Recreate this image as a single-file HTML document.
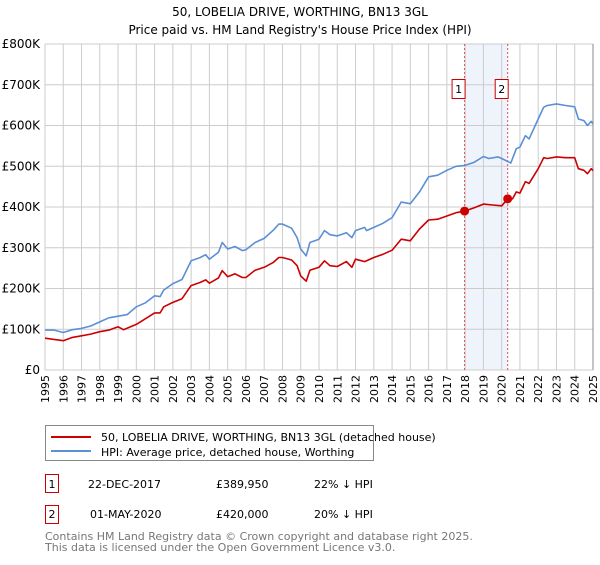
<!DOCTYPE html>
<html><head><meta charset="utf-8"><style>
body{margin:0;background:#fff;font-family:"Liberation Sans","DejaVu Sans",sans-serif;}
svg text{font-family:"DejaVu Sans","Liberation Sans",sans-serif;}
</style></head><body>
<svg id="chart" width="600" height="560" xmlns="http://www.w3.org/2000/svg">
<text x="300" y="16" text-anchor="middle" font-size="12">50, LOBELIA DRIVE, WORTHING, BN13 3GL</text>
<text x="300" y="34" text-anchor="middle" font-size="12">Price paid vs. HM Land Registry's House Price Index (HPI)</text>
<g id="plot"></g>
<g>
<rect x="45.5" y="425.5" width="328" height="35" fill="#fff" stroke="#888"/>
<line x1="51" y1="437" x2="91" y2="437" stroke="#cc0000" stroke-width="2"/>
<text x="101" y="441" font-size="11">50, LOBELIA DRIVE, WORTHING, BN13 3GL (detached house)</text>
<line x1="51" y1="451" x2="91" y2="451" stroke="#5b8fd6" stroke-width="2"/>
<text x="101" y="456" font-size="11">HPI: Average price, detached house, Worthing</text>
</g>
<g font-size="11">
<rect x="45.5" y="474.5" width="13" height="18" fill="none" stroke="#cc0000"/>
<text x="52" y="488" text-anchor="middle">1</text>
<text x="88" y="488">22-DEC-2017</text><text x="216" y="488">£389,950</text><text x="314" y="488">22% ↓ HPI</text>
<rect x="45.5" y="505.5" width="13" height="18" fill="none" stroke="#cc0000"/>
<text x="52" y="518" text-anchor="middle">2</text>
<text x="90" y="518">01-MAY-2020</text><text x="216" y="518">£420,000</text><text x="314" y="518">20% ↓ HPI</text>
</g>
<text x="45" y="540" font-size="11" fill="#777">Contains HM Land Registry data © Crown copyright and database right 2025.</text>
<text x="45" y="551" font-size="11" fill="#777">This data is licensed under the Open Government Licence v3.0.</text>
</svg>
<script>
const hpiYears=[1995,1995.5,1996,1996.5,1997,1997.5,1998,1998.5,1999,1999.5,2000,2000.5,2001,2001.3,2001.5,2002,2002.5,2003,2003.5,2003.8,2004,2004.5,2004.7,2005,2005.4,2005.8,2006,2006.5,2007,2007.5,2007.8,2008,2008.5,2008.8,2009,2009.3,2009.5,2010,2010.3,2010.6,2011,2011.5,2011.8,2012,2012.5,2012.6,2013,2013.5,2014,2014.5,2015,2015.5,2016,2016.5,2017,2017.5,2018,2018.5,2019,2019.3,2019.8,2020,2020.5,2020.8,2021,2021.3,2021.5,2022,2022.3,2022.5,2023,2023.5,2024,2024.2,2024.5,2024.7,2024.9,2025];
const hpiValues=[98,98,92,99,102,108,118,128,132,136,155,165,182,180,196,212,222,268,276,283,272,289,313,297,303,293,295,313,323,343,358,358,348,325,297,280,313,321,342,332,329,337,325,342,350,342,350,360,374,412,408,437,474,478,490,500,502,510,524,519,523,519,508,543,547,575,567,616,645,649,653,649,646,616,612,600,610,604];
const redYears=[1995,1995.5,1996,1996.5,1997,1997.5,1998,1998.5,1999,1999.3,2000,2000.5,2001,2001.3,2001.5,2002,2002.5,2003,2003.5,2003.8,2004,2004.5,2004.7,2005,2005.4,2005.8,2006,2006.5,2007,2007.5,2007.8,2008,2008.5,2008.8,2009,2009.3,2009.5,2010,2010.3,2010.6,2011,2011.5,2011.8,2012,2012.5,2013,2013.5,2014,2014.5,2015,2015.5,2016,2016.5,2017,2017.5,2017.97,2018.5,2019,2019.5,2020,2020.33,2020.6,2020.8,2021,2021.3,2021.5,2022,2022.3,2022.5,2023,2023.5,2024,2024.2,2024.5,2024.7,2024.9,2025];
const redValues=[78,75,72,80,84,88,94,98,106,99,112,126,140,140,155,166,175,207,215,221,213,226,244,229,236,227,227,245,252,264,276,276,270,256,231,218,245,252,268,256,254,266,252,272,266,276,284,294,321,317,346,368,370,378,386,390,398,407,405,403,420,420,437,434,462,458,494,521,519,523,521,521,494,490,482,494,489];
const saleYears=[2017.97,2020.33];
const saleValues=[389.95,420];
const saleLabels=["1","2"];
const yTicks=[0,100,200,300,400,500,600,700,800];
const yTickLabels=["£0","£100K","£200K","£300K","£400K","£500K","£600K","£700K","£800K"];
const xTicks=[];for(let y=1995;y<=2025;y++)xTicks.push(y);

const X0=45,X1=593,Y0=370,Y1=44;
const xs=y=>X0+(y-1995)/30*(X1-X0);
const ys=v=>Y0-v/800*(Y0-Y1);
const NS="http://www.w3.org/2000/svg";
const plot=document.getElementById('plot');
function mk(t,a,p){const e=document.createElementNS(NS,t);for(const k in a)e.setAttribute(k,a[k]);(p||plot).appendChild(e);return e;}

// shaded
const sh=mk('rect',{x:xs(saleYears[0]),y:Y1,width:xs(saleYears[1])-xs(saleYears[0]),height:Y0-Y1,fill:'#eef3fc'});


// grid
xTicks.forEach(y=>{
 const l=mk('line',{x1:xs(y),x2:xs(y),y1:Y1,y2:Y0,stroke:'#cccccc','stroke-width':1});
 
 
 const t=mk('text',{x:0,y:0,'font-size':11,'text-anchor':'end',transform:`translate(${xs(y)+4},375) rotate(-90)`});
 t.textContent=y;
 
 
});
yTicks.forEach((v,i)=>{
 const l=mk('line',{x1:X0,x2:X1,y1:ys(v),y2:ys(v),stroke:'#cccccc','stroke-width':1});
 
 
 const t=mk('text',{x:40,y:ys(v)+4,'font-size':12,'text-anchor':'end'});
 t.textContent=yTickLabels[i];
 
 
});
const sp=mk('line',{x1:X1,x2:X1,y1:Y1,y2:Y0,stroke:'#888'});


// sale vlines
saleYears.forEach((y,i)=>{
 const l=mk('line',{x1:xs(y),x2:xs(y),y1:Y1,y2:Y0,stroke:'#e05050','stroke-dasharray':'2,2','stroke-width':1});
 
 
 const r=mk('rect',{x:xs(y)-12.5,y:79.5,width:13,height:19,fill:'#fff',stroke:'#cc0000'});
 
 
 const t=mk('text',{x:xs(y)-6,y:93,'font-size':11,'text-anchor':'middle'});
 t.textContent=saleLabels[i];
 
 
});
function line(xa,va,col,name){
 const d=xa.map((y,i)=>(i?'L':'M')+xs(y).toFixed(1)+','+ys(va[i]).toFixed(1)).join('');
 const p=mk('path',{d:d,fill:'none',stroke:col,'stroke-width':1.6,'stroke-linejoin':'round'});
 
 
}
line(hpiYears,hpiValues,'#5b8fd6','hpi-line');
line(redYears,redValues,'#cc0000','price-paid-line');
saleYears.forEach((y,i)=>{
 const c=mk('circle',{cx:xs(y),cy:ys(saleValues[i]),r:4.5,fill:'#cc0000'});
 
 
});
</script>
</body></html>
